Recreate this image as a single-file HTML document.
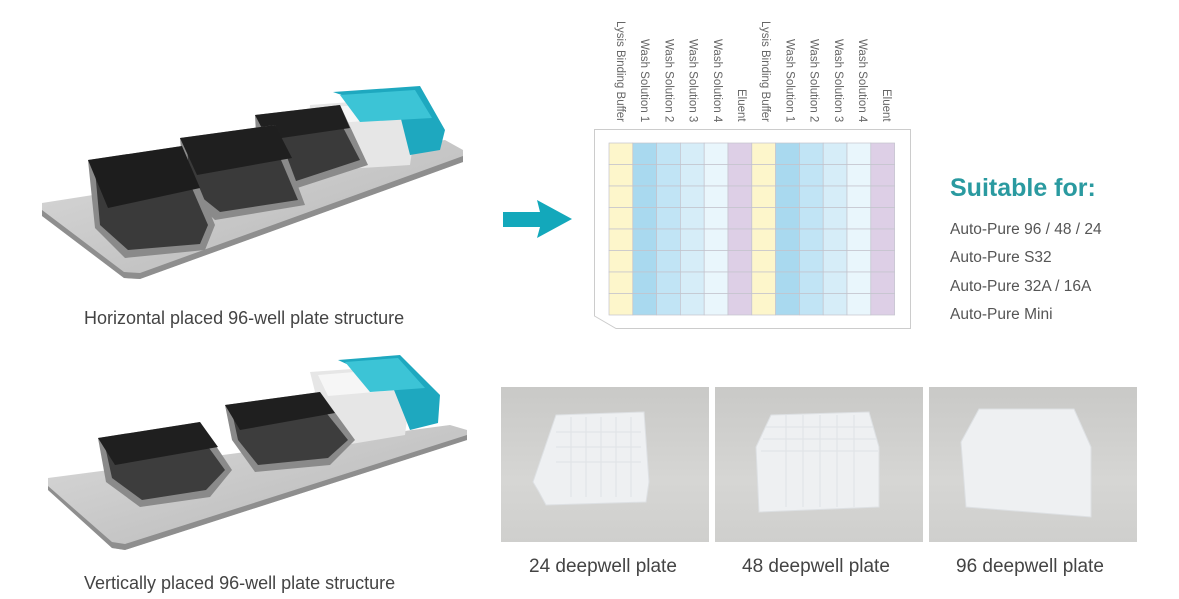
<!DOCTYPE html>
<html style="margin:0;width:1179px;height:599px;overflow:hidden"><head><meta charset="utf-8"><style>
body{margin:0;width:1179px;height:599px;background:#fff;position:relative;overflow:hidden;font-family:"Liberation Sans",sans-serif}
.abs{position:absolute}
.lbl{position:absolute;top:10px;height:112px;display:flex;justify-content:flex-end;writing-mode:vertical-rl;font-size:11.5px;color:#666;white-space:nowrap;line-height:12px}
.cap{position:absolute;font-size:18px;color:#444;white-space:nowrap}
.list{position:absolute;left:950px;font-size:15.5px;color:#555;white-space:nowrap}
.photo{position:absolute;top:387px;width:208px;height:155px;background:linear-gradient(180deg,#c9c9c7,#d6d6d4 60%,#cfcfcd)}
</style></head><body>

<svg class="abs" style="left:0;top:0" width="480" height="599">
 <defs>
  <linearGradient id="mt" x1="0" y1="0" x2="1" y2="1"><stop offset="0" stop-color="#dadada"/><stop offset="1" stop-color="#b4b4b4"/></linearGradient>
 </defs>
 <g>
  <polygon points="42,203 445,140 463,150 463,162 140,279 124,278 42,216" fill="url(#mt)"/>
  <polygon points="42,210 124,272 140,273 463,156 463,162 140,279 124,278 42,216" fill="#8e8e8e"/>
  <polygon points="310,105 405,98 418,110 410,165 330,170 305,160" fill="#e6e6e6"/>
  <polygon points="318,108 400,102 404,118 325,124" fill="#f6f6f6"/>
  <polygon points="333,92 420,86 445,130 440,150 410,155 400,115" fill="#1ea8bf"/>
  <polygon points="340,95 415,90 432,118 360,122" fill="#3cc4d6"/>
  <polygon points="255,115 340,105 368,165 285,192 258,172" fill="#8a8a8a"/>
  <polygon points="262,122 335,112 360,160 290,183 265,168" fill="#3a3a3a"/>
  <polygon points="255,115 340,105 350,128 268,140" fill="#202020"/>
  <polygon points="180,138 275,125 305,205 215,220 185,192" fill="#8a8a8a"/>
  <polygon points="187,146 270,134 298,200 220,212 190,188" fill="#3a3a3a"/>
  <polygon points="180,138 275,125 292,158 197,175" fill="#1f1f1f"/>
  <polygon points="88,160 182,146 215,225 205,250 125,258 95,228" fill="#8a8a8a"/>
  <polygon points="95,170 178,156 208,225 200,244 128,250 100,225" fill="#3a3a3a"/>
  <polygon points="88,160 182,146 200,188 108,208" fill="#1d1d1d"/>
 </g>
 <g>
  <polygon points="48,478 450,425 467,430 467,440 125,550 112,548 48,490" fill="url(#mt)"/>
  <polygon points="48,486 112,542 125,544 467,435 467,440 125,550 112,548 48,490" fill="#8e8e8e"/>
  <polygon points="310,372 395,366 412,380 405,435 345,445 322,420" fill="#e6e6e6"/>
  <polygon points="318,375 392,369 398,390 328,396" fill="#f6f6f6"/>
  <polygon points="338,360 400,355 440,395 438,423 410,430 392,385" fill="#1ea8bf"/>
  <polygon points="345,362 398,358 425,388 370,392" fill="#3cc4d6"/>
  <polygon points="225,405 320,392 355,440 330,465 255,472 232,440" fill="#8a8a8a"/>
  <polygon points="232,412 316,400 348,440 328,458 258,465 238,440" fill="#3d3d3d"/>
  <polygon points="225,405 320,392 335,413 240,430" fill="#1f1f1f"/>
  <polygon points="98,438 200,422 232,470 210,497 140,507 106,482" fill="#8a8a8a"/>
  <polygon points="105,446 196,430 225,470 206,490 142,500 112,478" fill="#3d3d3d"/>
  <polygon points="98,438 200,422 218,447 115,465" fill="#1f1f1f"/>
 </g>
</svg>

<div class="cap" style="left:84px;top:308px">Horizontal placed 96-well plate structure</div>
<div class="cap" style="left:84px;top:573px">Vertically placed 96-well plate structure</div>

<svg class="abs" style="left:500px;top:198px" width="76" height="42">
 <polygon points="3,14 40,14 37,2 72,21 37,40 40,29 3,29" fill="#13a8bb"/>
</svg>

<svg class="abs" style="left:590px;top:125px" width="325" height="210">
 <polygon points="4.5,4.5 320.5,4.5 320.5,203.5 26,203.5 4.5,191" fill="#fff" stroke="#ccc" stroke-width="1"/>
 <g id="g"></g>
</svg>
<div id="labels"></div>

<div class="abs" style="left:950px;top:174px;font-size:25px;font-weight:bold;color:#2a9aa0">Suitable for:</div>
<div class="list" style="top:221px">Auto-Pure 96 / 48 / 24</div>
<div class="list" style="top:249px">Auto-Pure S32</div>
<div class="list" style="top:278px">Auto-Pure 32A / 16A</div>
<div class="list" style="top:306px">Auto-Pure Mini</div>

<div class="photo" style="left:501px"></div>
<div class="photo" style="left:715px"></div>
<div class="photo" style="left:929px"></div>
<svg class="abs" style="left:501px;top:387px" width="640" height="155">
 <g fill="#eef0f2" stroke="#dde0e3">
  <polygon points="32,95 55,28 143,25 148,95 145,115 45,118 38,105"/>
  <polygon points="255,60 270,28 368,25 378,60 378,120 258,125"/>
  <polygon points="460,55 478,22 573,22 590,60 590,130 465,120"/>
 </g>
 <g stroke="#dfe2e6" fill="none">
  <path d="M55,45 H140 M55,60 H140 M55,75 H140 M70,30 V110 M85,30 V110 M100,30 V110 M115,30 V110 M130,30 V110"/>
  <path d="M265,40 H372 M262,52 H375 M260,64 H377 M285,28 V120 M302,28 V120 M319,28 V120 M336,28 V120 M353,28 V120"/>
 </g>
</svg>
<div class="cap" style="left:529px;top:556px;font-size:19px">24 deepwell plate</div>
<div class="cap" style="left:742px;top:556px;font-size:19px">48 deepwell plate</div>
<div class="cap" style="left:956px;top:556px;font-size:19px">96 deepwell plate</div>

<script>
var cols=["#fdf6cb","#a9d9ef","#c1e4f5","#d6edf8","#e9f6fc","#ddcfe6"];
var g=document.getElementById("g"),s="";
var x0=19,y0=18,w=23.8,h=21.5;
for(var c=0;c<12;c++){for(var r=0;r<8;r++){s+='<rect x="'+(x0+c*w)+'" y="'+(y0+r*h)+'" width="'+w+'" height="'+h+'" fill="'+cols[c%6]+'" stroke="#c3c3cc" stroke-width="0.7"/>';}}
g.innerHTML=s;
var names=["Lysis Binding Buffer","Wash Solution 1","Wash Solution 2","Wash Solution 3","Wash Solution 4","Eluent"];
var L="";
for(var c=0;c<12;c++){L+='<div class="lbl" style="left:'+(614+c*24.2)+'px">'+names[c%6]+'</div>';}
document.getElementById("labels").innerHTML=L;
</script>
</body></html>
